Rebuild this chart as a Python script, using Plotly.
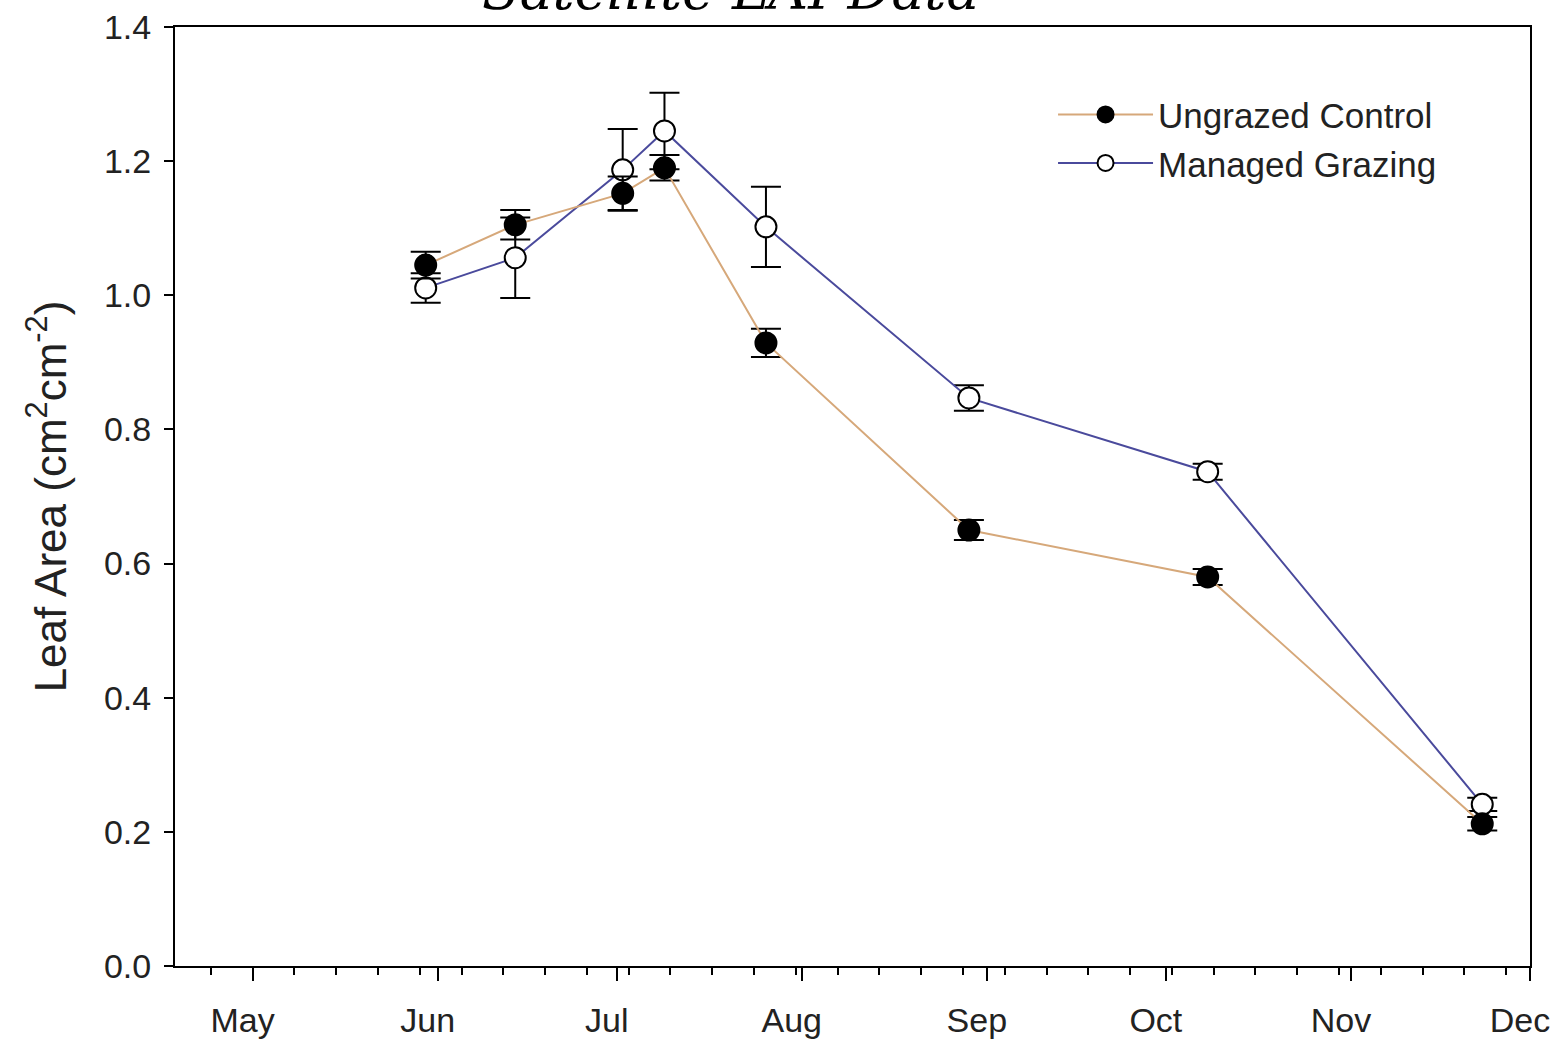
import plotly.graph_objects as go

# ---- data ----
dates = ["2013-05-30", "2013-06-14", "2013-07-02", "2013-07-09",
         "2013-07-26", "2013-08-29", "2013-10-08", "2013-11-23"]
ungrazed = [1.045, 1.105, 1.152, 1.190, 0.929, 0.650, 0.580, 0.212]
ungrazed_err = [0.020, 0.022, 0.025, 0.019, 0.021, 0.015, 0.012, 0.010]
managed = [1.011, 1.056, 1.187, 1.245, 1.102, 0.847, 0.737, 0.241]
managed_err = [0.022, 0.060, 0.061, 0.057, 0.060, 0.019, 0.012, 0.010]

month_ticks = ["2013-05-01", "2013-06-01", "2013-07-01", "2013-08-01",
               "2013-09-01", "2013-10-01", "2013-11-01", "2013-12-01"]
month_labels = ["May", "Jun", "Jul", "Aug", "Sep", "Oct", "Nov", "Dec"]
y_ticks = [0.0, 0.2, 0.4, 0.6, 0.8, 1.0, 1.2, 1.4]
y_labels = ["0.0", "0.2", "0.4", "0.6", "0.8", "1.0", "1.2", "1.4"]

FONT = "Liberation Sans, Arial, sans-serif"

fig = go.Figure()
fig.add_trace(go.Scatter(
    x=dates, y=managed, name="Managed Grazing", mode="lines+markers",
    line=dict(color="#4a4a9c", width=2),
    marker=dict(symbol="circle", size=21, color="white",
                line=dict(color="black", width=2)),
    error_y=dict(type="data", array=managed_err, visible=True,
                 color="black", thickness=2, width=15),
    legendrank=2,
))
fig.add_trace(go.Scatter(
    x=dates, y=ungrazed, name="Ungrazed Control", mode="lines+markers",
    line=dict(color="#d6a87a", width=2),
    marker=dict(symbol="circle", size=21, color="black",
                line=dict(color="black", width=2)),
    error_y=dict(type="data", array=ungrazed_err, visible=True,
                 color="black", thickness=2, width=15),
    legendrank=1,
))

fig.update_layout(
    width=1563, height=1044,
    margin=dict(l=175, r=33, t=27, b=78),
    paper_bgcolor="white", plot_bgcolor="white",
    font=dict(family=FONT, size=34, color="#222222"),
    showlegend=True,
    legend=dict(x=0.648, y=0.938, xanchor="left", yanchor="top",
                bgcolor="rgba(0,0,0,0)", font=dict(size=35, family=FONT),
                itemwidth=95, tracegroupgap=0),
    xaxis=dict(
        type="date", range=["2013-04-18", "2013-12-01"],
        tickmode="array", tickvals=month_ticks, ticktext=month_labels,
        ticks="outside", ticklen=13, tickwidth=2, tickcolor="black",
        ticklabelshift=-10, ticklabelstandoff=10,
        minor=dict(dtick=7 * 86400000, tick0="2013-04-24", ticks="outside",
                   ticklen=7, tickwidth=2, tickcolor="black", showgrid=False),
        showline=True, linecolor="black", linewidth=2, mirror=True,
        showgrid=False, zeroline=False, automargin=False,
        tickfont=dict(size=34, family=FONT),
    ),
    yaxis=dict(
        range=[0, 1.4], tickmode="array", tickvals=y_ticks, ticktext=y_labels,
        ticks="outside", ticklen=9, tickwidth=2, tickcolor="black",
        ticklabelstandoff=6, automargin=False,
        showline=True, linecolor="black", linewidth=2, mirror=True,
        showgrid=False, zeroline=False,
        tickfont=dict(size=34, family=FONT),
        title=dict(text="Leaf Area (cm<sup>2</sup>cm<sup>-2</sup>)",
                   font=dict(size=44, family=FONT), standoff=24),
    ),
    annotations=[dict(
        text="<i>Satellite LAI Data</i>", xref="paper", yref="paper",
        x=0.41, y=1.0, xanchor="center", yanchor="bottom", showarrow=False,
        yshift=3,
        font=dict(family="DejaVu Serif", size=55, color="black"),
    )],
)

fig.write_html("out.html")
